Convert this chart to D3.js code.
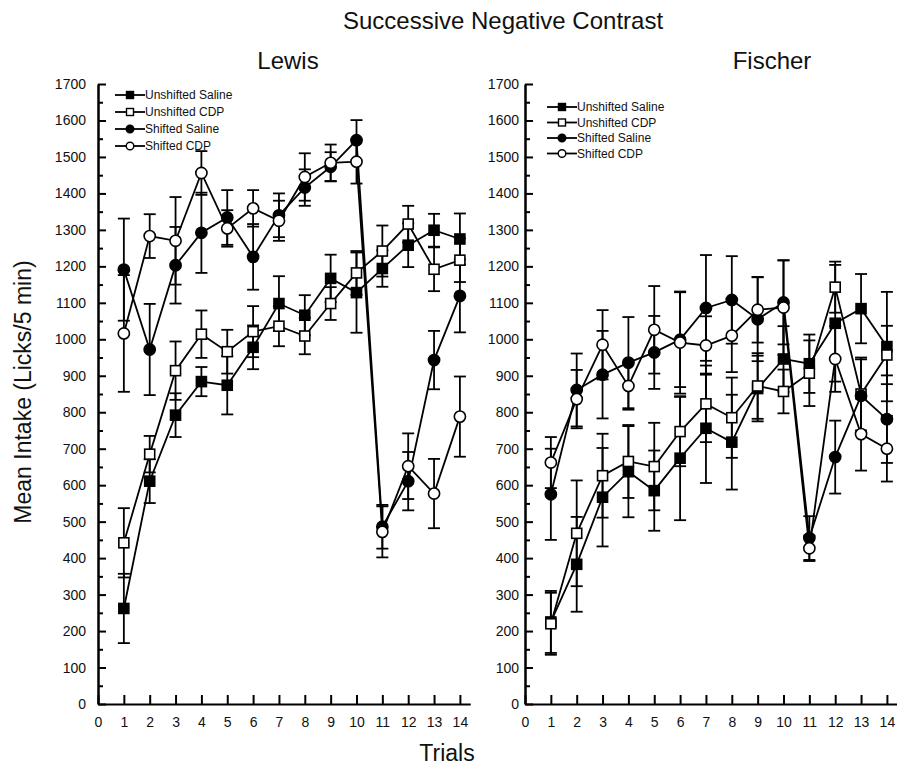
<!DOCTYPE html>
<html>
<head>
<meta charset="utf-8">
<script src="https://cdn.jsdelivr.net/npm/d3@7"></script>
<style>
  body { margin: 0; background: #fff; }
  svg { display: block; font-family: "Liberation Sans", Arial, Helvetica, sans-serif; }
  .axis path, .axis line { stroke: #000; stroke-width: 2; }
  .axis text { font-size: 14px; fill: #111; }
</style>
</head>
<body>
<svg id="chart" width="897" height="773"></svg>
<script>
// trials 1..14
var trials = d3.range(1, 15);
var seriesNames = ["Unshifted Saline", "Unshifted CDP", "Shifted Saline", "Shifted CDP"];
var yTicks = d3.range(0, 1701, 100);
var xTicks = d3.range(0, 15);

// Lewis
var lewisUnshiftedSaline = [262, 611, 792, 884, 874, 978, 1098, 1066, 1167, 1128, 1194, 1258, 1299, 1275];
var lewisUnshiftedCDP    = [442, 685, 914, 1014, 966, 1021, 1036, 1009, 1098, 1182, 1242, 1316, 1192, 1217];
var lewisShiftedSaline   = [1191, 972, 1203, 1292, 1334, 1226, 1340, 1416, 1473, 1546, 486, 611, 943, 1119];
var lewisShiftedCDP      = [1016, 1283, 1270, 1456, 1304, 1359, 1325, 1445, 1484, 1487, 472, 652, 577, 788];
var lewisUnshiftedSalineErr = [95, 60, 60, 40, 80, 60, 75, 55, 65, 110, 50, 60, 45, 70];
var lewisUnshiftedCDPErr    = [95, 50, 80, 65, 60, 70, 55, 50, 45, 60, 70, 50, 60, 60];
var lewisShiftedSalineErr   = [140, 125, 105, 110, 75, 90, 60, 50, 40, 55, 60, 80, 80, 100];
var lewisShiftedCDPErr      = [160, 60, 120, 60, 50, 50, 55, 65, 50, 60, 70, 90, 95, 110];

// Fischer
var fischerUnshiftedSaline = [225, 383, 567, 637, 585, 674, 756, 718, 865, 946, 933, 1044, 1084, 980];
var fischerUnshiftedCDP    = [220, 468, 626, 665, 651, 747, 823, 785, 872, 857, 907, 1143, 850, 957];
var fischerShiftedSaline   = [575, 861, 903, 936, 964, 999, 1086, 1108, 1055, 1101, 455, 677, 845, 781];
var fischerShiftedCDP      = [662, 836, 985, 872, 1026, 991, 983, 1010, 1081, 1087, 427, 946, 740, 700];
var fischerUnshiftedSalineErr = [85, 130, 135, 125, 110, 170, 150, 130, 90, 90, 80, 160, 95, 150];
var fischerUnshiftedCDPErr    = [85, 145, 115, 100, 120, 95, 105, 110, 90, 60, 90, 70, 100, 80];
var fischerShiftedSalineErr   = [125, 100, 120, 125, 100, 130, 145, 120, 115, 115, 60, 100, 100, 120];
var fischerShiftedCDPErr      = [70, 80, 95, 65, 120, 140, 80, 100, 90, 130, 35, 90, 100, 90];

var svg = d3.select("#chart");

function drawPanel(opt) {
    var x = d3.scaleLinear().domain([0, 14.4]).range([opt.left, opt.left + 14.4 * 25.85]);
    var y = d3.scaleLinear().domain([0, 1700]).range([704, 84]);
    var g = svg.append("g");

    // minor ticks every 50
    g.append("g")
        .attr("class", "axis")
        .attr("transform", "translate(" + opt.left + ",0)")
        .call(d3.axisLeft(y).tickValues(d3.range(50, 1700, 100)).tickSize(-5).tickSizeOuter(0).tickFormat(""));

    g.append("g")
        .attr("class", "axis")
        .attr("transform", "translate(" + opt.left + ",0)")
        .call(d3.axisLeft(y).tickValues(yTicks).tickSize(-8).tickSizeOuter(0)
            .tickPadding(opt.labelPad).tickFormat(d3.format("d")));

    g.append("g")
        .attr("class", "axis")
        .attr("transform", "translate(0,704)")
        .call(d3.axisBottom(x).tickValues(xTicks).tickSize(-9).tickSizeOuter(0)
            .tickPadding(13).tickFormat(d3.format("d")));

    var series = [
        { vals: opt.data[0], err: opt.err[0], shape: "square", fill: "#000" },
        { vals: opt.data[1], err: opt.err[1], shape: "square", fill: "#fff" },
        { vals: opt.data[2], err: opt.err[2], shape: "circle", fill: "#000" },
        { vals: opt.data[3], err: opt.err[3], shape: "circle", fill: "#fff" }
    ];

    var line = d3.line()
        .x(function (d, i) { return x(trials[i]); })
        .y(function (d) { return y(d); });

    // error bars
    series.forEach(function (s) {
        var eb = g.append("g").selectAll("g").data(s.vals).enter().append("g")
            .attr("stroke", "#000").attr("stroke-width", 1.8);
        eb.append("line")
            .attr("x1", function (d, i) { return x(trials[i]); })
            .attr("x2", function (d, i) { return x(trials[i]); })
            .attr("y1", function (d, i) { return y(d - s.err[i]); })
            .attr("y2", function (d, i) { return y(d + s.err[i]); });
        [-1, 1].forEach(function (sgn) {
            eb.append("line")
                .attr("x1", function (d, i) { return x(trials[i]) - 6; })
                .attr("x2", function (d, i) { return x(trials[i]) + 6; })
                .attr("y1", function (d, i) { return y(d + sgn * s.err[i]); })
                .attr("y2", function (d, i) { return y(d + sgn * s.err[i]); });
        });
    });

    series.forEach(function (s) {
        g.append("path")
            .datum(s.vals)
            .attr("fill", "none")
            .attr("stroke", "#000")
            .attr("stroke-width", 1.8)
            .attr("d", line);
    });

    series.forEach(function (s) {
        var m = g.append("g").selectAll(".m").data(s.vals).enter();
        if (s.shape === "square") {
            m.append("rect")
                .attr("x", function (d, i) { return x(trials[i]) - 5; })
                .attr("y", function (d) { return y(d) - 5; })
                .attr("width", 10).attr("height", 10)
                .attr("fill", s.fill).attr("stroke", "#000").attr("stroke-width", 1.6);
        } else {
            m.append("circle")
                .attr("cx", function (d, i) { return x(trials[i]); })
                .attr("cy", function (d) { return y(d); })
                .attr("r", 5.6)
                .attr("fill", s.fill).attr("stroke", "#000").attr("stroke-width", 1.6);
        }
    });

    // legend
    var lg = g.append("g").attr("transform", "translate(" + opt.legX + "," + opt.legY + ")");
    series.forEach(function (s, i) {
        var row = lg.append("g").attr("transform", "translate(0," + i * opt.legStep + ")");
        row.append("line").attr("x1", 0).attr("x2", 30).attr("y1", 0).attr("y2", 0)
            .attr("stroke", "#000").attr("stroke-width", 1.8);
        if (s.shape === "square") {
            row.append("rect").attr("x", 11.5).attr("y", -3.5).attr("width", 7).attr("height", 7)
                .attr("fill", s.fill).attr("stroke", "#000").attr("stroke-width", 1.4);
        } else {
            row.append("circle").attr("cx", 15).attr("cy", 0).attr("r", 3.8)
                .attr("fill", s.fill).attr("stroke", "#000").attr("stroke-width", 1.4);
        }
        row.append("text").attr("x", 30).attr("y", 0).attr("dy", "0.35em")
            .style("font-size", "12px").attr("fill", "#111").text(seriesNames[i]);
    });

    svg.append("text")
        .attr("x", opt.titleX).attr("y", 69)
        .attr("text-anchor", "middle")
        .style("font-size", "24px").attr("fill", "#111")
        .text(opt.title);
}

drawPanel({
    title: "Lewis", titleX: 288, left: 98, labelPad: 12,
    legX: 115, legY: 95, legStep: 17,
    data: [lewisUnshiftedSaline, lewisUnshiftedCDP, lewisShiftedSaline, lewisShiftedCDP],
    err: [lewisUnshiftedSalineErr, lewisUnshiftedCDPErr, lewisShiftedSalineErr, lewisShiftedCDPErr]
});

drawPanel({
    title: "Fischer", titleX: 772, left: 525, labelPad: 6,
    legX: 547, legY: 107, legStep: 15.5,
    data: [fischerUnshiftedSaline, fischerUnshiftedCDP, fischerShiftedSaline, fischerShiftedCDP],
    err: [fischerUnshiftedSalineErr, fischerUnshiftedCDPErr, fischerShiftedSalineErr, fischerShiftedCDPErr]
});

svg.append("text")
    .attr("x", 503).attr("y", 29)
    .attr("text-anchor", "middle")
    .style("font-size", "24px").attr("fill", "#111")
    .text("Successive Negative Contrast");

svg.append("text")
    .attr("transform", "translate(31,392) rotate(-90)")
    .attr("text-anchor", "middle")
    .style("font-size", "23px").attr("fill", "#111")
    .text("Mean Intake (Licks/5 min)");

svg.append("text")
    .attr("x", 447).attr("y", 761)
    .attr("text-anchor", "middle")
    .style("font-size", "23px").attr("fill", "#111")
    .text("Trials");
</script>
</body>
</html>
